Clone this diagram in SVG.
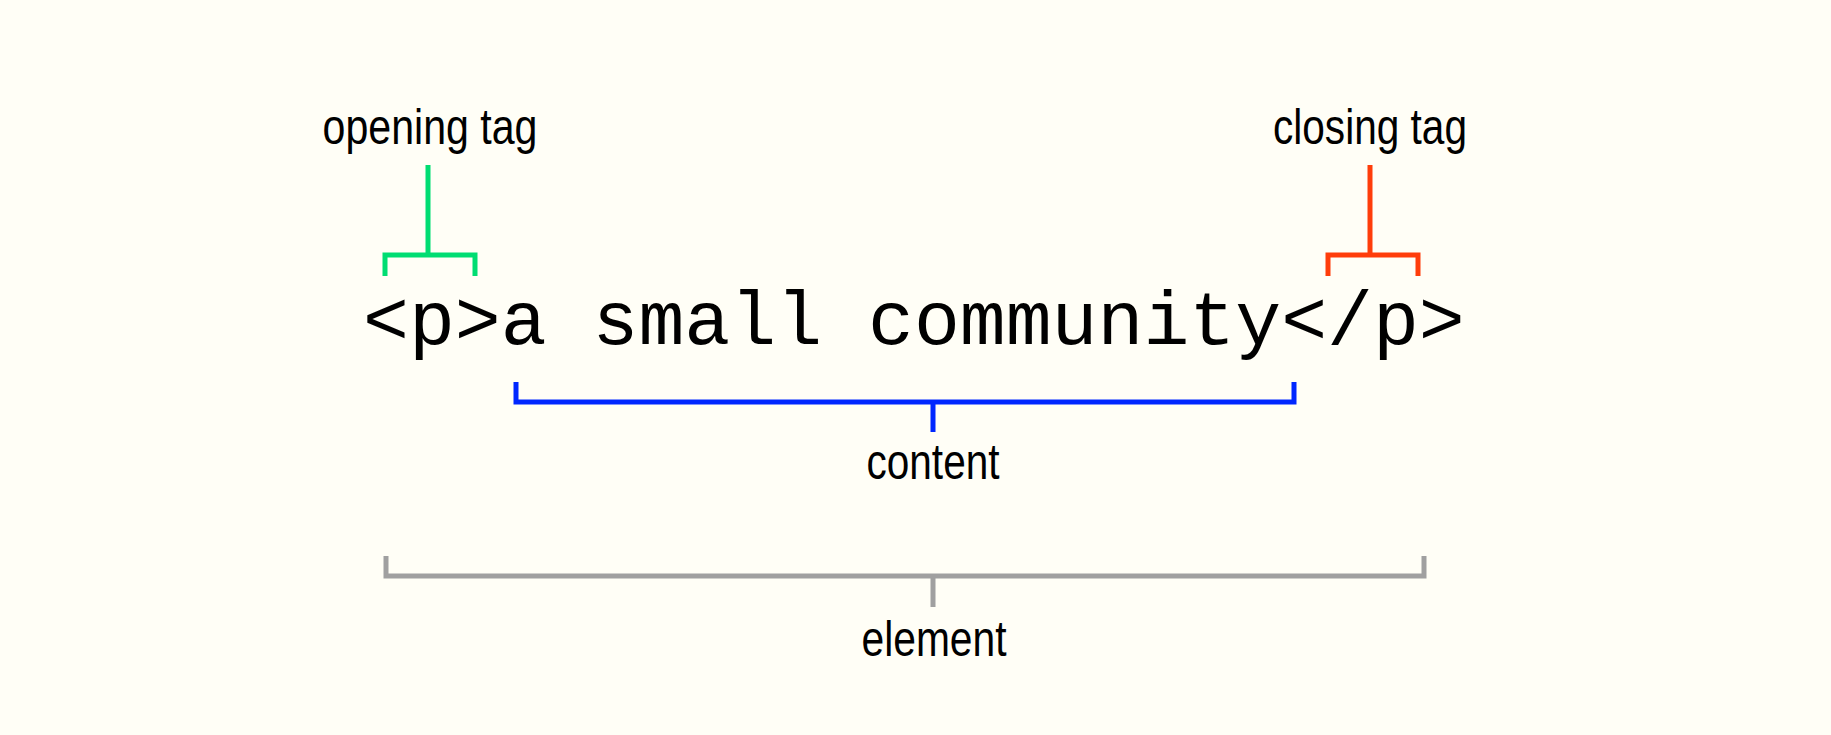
<svg xmlns="http://www.w3.org/2000/svg" width="1831" height="735" viewBox="0 0 1831 735">
  <style>
    .label { font-family: "Liberation Sans Narrow", "Liberation Sans", Arial, sans-serif; font-size: 50px; fill: #000; text-anchor: middle; }
    .code { font-family: "Liberation Mono", "DejaVu Sans Mono", monospace; font-size: 76.5px; fill: #000; }
    .br { fill: none; stroke-width: 5; stroke-linecap: butt; stroke-linejoin: miter; }
  </style>
  <rect x="0" y="0" width="1831" height="735" fill="#fffef6"/>

  <g id="code-line">
    <text class="code" x="363" y="344" xml:space="preserve">&lt;p&gt;a small community&lt;/p&gt;</text>
  </g>

  <g id="connectors">
    <path class="br" stroke="#00dd72" d="M385 276 V255 H475 V276 M428 255 V165"/>
    <path class="br" stroke="#ff3d0a" d="M1328 276 V255 H1418 V276 M1370 255 V165"/>
    <path class="br" stroke="#0027ff" d="M516 382 V402 H1294 V382 M933 402 V432"/>
    <path class="br" stroke="#a0a0a0" d="M386 556 V576 H1424 V556 M933 576 V607"/>
  </g>

  <g id="opening-tag">
    <text class="label" x="430" y="144" textLength="215" lengthAdjust="spacingAndGlyphs">opening tag</text>
  </g>
  <g id="closing-tag">
    <text class="label" x="1370" y="144" textLength="194" lengthAdjust="spacingAndGlyphs">closing tag</text>
  </g>
  <g id="content">
    <text class="label" x="933" y="479" textLength="133" lengthAdjust="spacingAndGlyphs">content</text>
  </g>
  <g id="element">
    <text class="label" x="934" y="656" textLength="145" lengthAdjust="spacingAndGlyphs">element</text>
  </g>
</svg>
